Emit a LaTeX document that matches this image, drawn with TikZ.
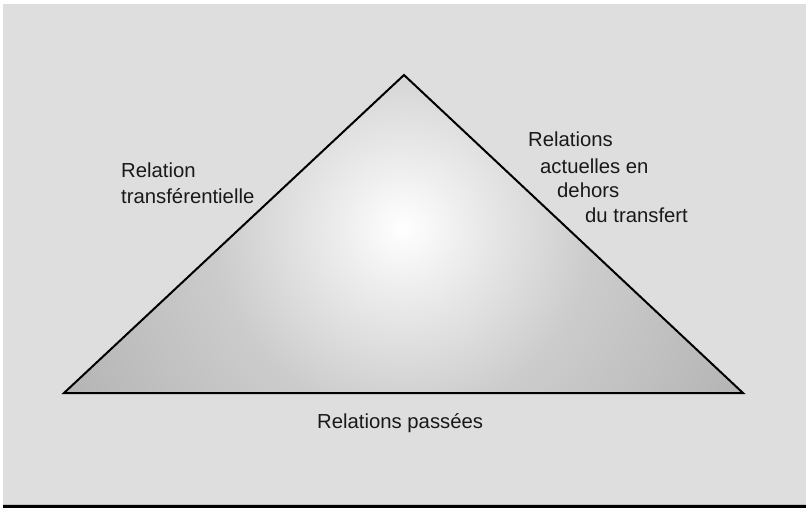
\documentclass[tikz,border=0pt]{standalone}
\usepackage{fontspec}
\setmainfont{Liberation Sans}
\definecolor{bggray}{HTML}{DEDEDE}
\pgfdeclareradialshading{glow}{\pgfpoint{0bp}{0bp}}{color(0bp)=(white); color(4bp)=(white!93!black); color(12bp)=(white!80!black); color(25bp)=(white!70!black); color(40bp)=(white!62!black); color(50bp)=(white!58!black)}
\tikzset{lbl/.style={font=\fontsize{20.3}{24}\selectfont, anchor=base west, inner sep=0pt, text=black!90}}
\begin{document}
\begin{tikzpicture}[x=1pt,y=-1pt]
\useasboundingbox (0,0) rectangle (806,508);
\fill[white] (0,0) rectangle (806,508);
\fill[bggray] (3,4) rectangle (806,504);
\fill[black!25] (3,503.5) rectangle (806,505);
\fill[black] (3,505) rectangle (806,508);
\coordinate (apex) at (404,75);
\coordinate (bl) at (64,393);
\coordinate (br) at (743,393);
\begin{scope}
\clip (apex) -- (bl) -- (br) -- cycle;
\shade[shading=glow] (403,228) circle (390);
\end{scope}
\draw[line width=2pt, line join=miter] (apex) -- (bl) -- (br) -- cycle;
\node[lbl] (l1) at (121,177) {Relation};
\node[lbl] (l2) at (121,203) {transférentielle};
\node[lbl] (r1) at (528,147) {Relations};
\node[lbl] (r2) at (540,173) {actuelles en};
\node[lbl] (r3) at (557,197) {dehors};
\node[lbl] (r4) at (585,222) {du transfert};
\node[lbl] (b1) at (317,428) {Relations passées};
\end{tikzpicture}
\end{document}
